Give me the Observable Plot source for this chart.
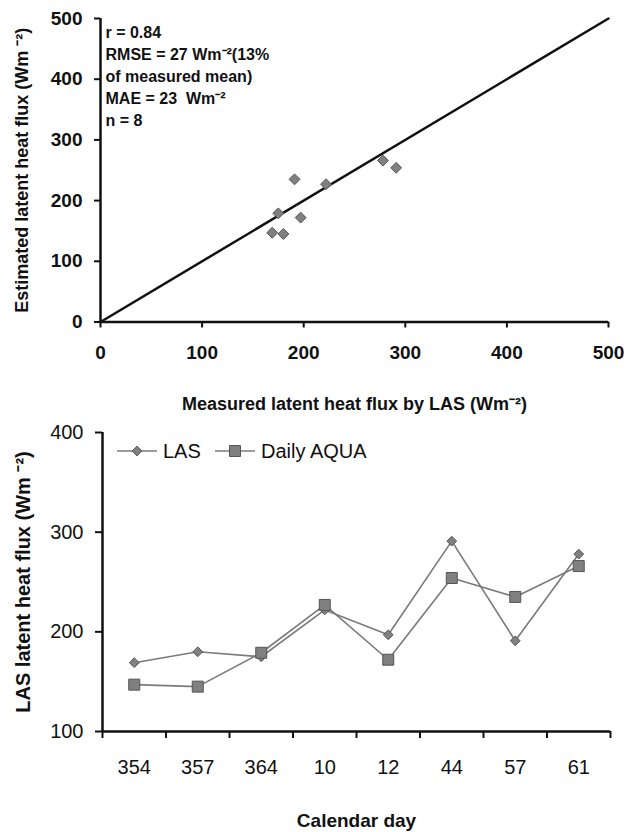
<!DOCTYPE html>
<html><head><meta charset="utf-8">
<script src="https://cdn.jsdelivr.net/npm/d3@7"></script>
<script src="https://cdn.jsdelivr.net/npm/@observablehq/plot@0.6"></script>
<style>
body{margin:0;background:#fff;}
#wrap{position:relative;width:631px;height:832px;overflow:hidden;background:#fff;font-family:"Liberation Sans",Arial,sans-serif;}
#wrap > svg{display:block}
.leg{position:absolute;display:flex;align-items:center;font-size:20px;color:#111;height:28px;}
.leg span{margin-left:6px}
</style></head><body><div id="wrap"></div>
<script>
// ---- data ----
const days = ["354","357","364","10","12","44","57","61"];
const lasFlux = [169,180,175,222,197,291,191,278];
const aquaFlux = [147,145,179,227,172,254,235,266];
const scatterTicks = [0,100,200,300,400,500];
const lineTicks = [100,200,300,400];
const statsLines = ["r = 0.84","RMSE = 27 Wm\u207B\u00B2(13%","of measured mean)","MAE = 23  Wm\u207B\u00B2","n = 8"];
const seriesNames = ["LAS","Daily AQUA"];

const FONT = "Liberation Sans, Arial, sans-serif";
const GREY_FILL = "#808080", GREY_STROKE = "#555555", LINE_GREY = "#7a7a7a";
const wrap = document.getElementById("wrap");

const scatter = lasFlux.map((v,i)=>({las:v, aqua:aquaFlux[i]}));
const oneToOne = [scatterTicks[0], scatterTicks[scatterTicks.length-1]];

const topChart = Plot.plot({
  width:631, height:420, marginLeft:100, marginRight:23, marginTop:18, marginBottom:98.5,
  style:{fontFamily:FONT, fontWeight:"bold", background:"#fff", color:"#111", overflow:"visible"},
  x:{domain:[0,500]}, y:{domain:[0,500]},
  marks:[
    Plot.axisX({ticks:scatterTicks, tickSize:6, tickPadding:17, fontSize:19, fontWeight:"bold", strokeWidth:2, label:null}),
    Plot.axisY({ticks:scatterTicks, tickSize:6, tickPadding:12, fontSize:19, fontWeight:"bold", strokeWidth:2, label:null}),
    Plot.ruleX([0], {stroke:"#111", strokeWidth:2.5}),
    Plot.ruleY([0], {stroke:"#111", strokeWidth:2.5}),
    Plot.line(oneToOne, {x:d=>d, y:d=>d, stroke:"#111", strokeWidth:2.5}),
    Plot.dot(scatter, {x:"las", y:"aqua", symbol:"diamond2", r:4.9, fill:GREY_FILL, stroke:GREY_STROKE, strokeWidth:1}),
    Plot.text([statsLines.join("\n")], {text:d=>d, frameAnchor:"top-left", textAnchor:"start", lineAnchor:"top", dx:5, dy:4, fontSize:16, fontWeight:"bold", lineHeight:1.375}),
    Plot.text(["Measured latent heat flux by LAS (Wm\u207B\u00B2)"], {text:d=>d, frameAnchor:"bottom", textAnchor:"middle", lineAnchor:"middle", dy:82.5, fontSize:18, fontWeight:"bold"}),
    Plot.text(["Estimated latent heat flux (Wm \u207B\u00B2)"], {text:d=>d, frameAnchor:"left", textAnchor:"middle", lineAnchor:"middle", rotate:-90, dx:-78, fontSize:18, fontWeight:"bold"})
  ]
});
wrap.appendChild(topChart);

const idx = days.map((d,i)=>i);
const bottomChart = Plot.plot({
  width:631, height:412, marginLeft:102, marginRight:21, marginTop:12, marginBottom:101,
  style:{fontFamily:FONT, background:"#fff", color:"#111", overflow:"visible"},
  x:{domain:[0,days.length]}, y:{domain:[100,400]},
  marks:[
    Plot.axisX({ticks:d3.range(days.length+1), tickSize:7, tickFormat:()=>"", strokeWidth:2, label:null}),
    Plot.axisX({ticks:idx.map(i=>i+0.5), tickSize:0, tickPadding:28, tickFormat:v=>days[Math.floor(v)], fontSize:20, label:null}),
    Plot.axisY({ticks:lineTicks, tickSize:7, tickPadding:12, fontSize:20, strokeWidth:2, label:null}),
    Plot.ruleX([0], {stroke:"#111", strokeWidth:2.5}),
    Plot.ruleY([100], {stroke:"#111", strokeWidth:2.5}),
    Plot.line(idx, {x:i=>i+0.5, y:i=>lasFlux[i], stroke:LINE_GREY, strokeWidth:1.6}),
    Plot.line(idx, {x:i=>i+0.5, y:i=>aquaFlux[i], stroke:LINE_GREY, strokeWidth:1.6}),
    Plot.dot(idx, {x:i=>i+0.5, y:i=>lasFlux[i], symbol:"diamond2", r:4.4, fill:GREY_FILL, stroke:GREY_STROKE, strokeWidth:1}),
    Plot.dot(idx, {x:i=>i+0.5, y:i=>aquaFlux[i], symbol:"square", r:6.2, fill:GREY_FILL, stroke:GREY_STROKE, strokeWidth:1}),
    Plot.text(["LAS latent heat flux (Wm \u207B\u00B2)"], {text:d=>d, frameAnchor:"left", textAnchor:"middle", lineAnchor:"middle", rotate:-90, dx:-79, fontSize:20, fontWeight:"bold"}),
    Plot.text(["Calendar day"], {text:d=>d, frameAnchor:"bottom", textAnchor:"middle", lineAnchor:"middle", dy:89, fontSize:19, fontWeight:"bold"})
  ]
});
wrap.appendChild(bottomChart);

// ---- legend ----
function legendItem(left, name, symbolType, size){
  const div = document.createElement("div");
  div.className = "leg";
  div.style.left = left + "px";
  div.style.top = "437px";
  const svg = d3.create("svg").attr("width",40).attr("height",28);
  svg.append("line").attr("x1",0).attr("x2",40).attr("y1",14).attr("y2",14)
     .attr("stroke",LINE_GREY).attr("stroke-width",1.6);
  svg.append("path").attr("transform","translate(20,14)")
     .attr("d", d3.symbol(symbolType, size)())
     .attr("fill",GREY_FILL).attr("stroke",GREY_STROKE);
  div.appendChild(svg.node());
  const sp = document.createElement("span");
  sp.textContent = name;
  div.appendChild(sp);
  wrap.appendChild(div);
}
legendItem(117, seriesNames[0], d3.symbolDiamond2, Math.PI*4.4*4.4);
legendItem(215, seriesNames[1], d3.symbolSquare, Math.PI*6.2*6.2);
</script>
</body></html>
